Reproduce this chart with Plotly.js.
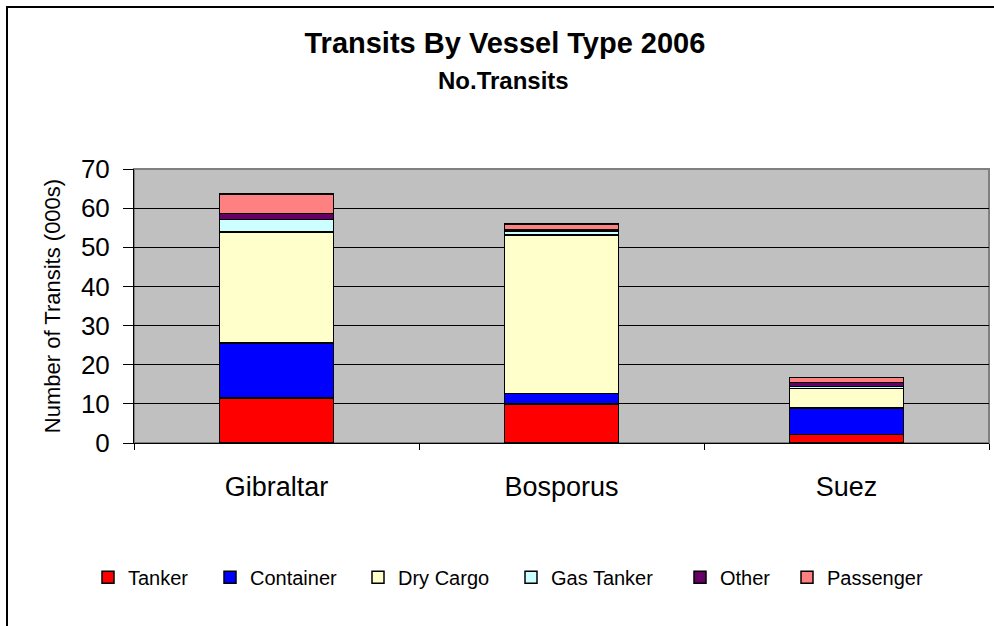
<!DOCTYPE html>
<html>
<head>
<meta charset="utf-8">
<script src="https://cdn.plot.ly/plotly-3.0.1.min.js"></script>
<style>
  html, body { margin: 0; padding: 0; background: #fff; }
  #wrap { position: relative; width: 994px; height: 626px; overflow: hidden; }
  #chart { position: absolute; left: 0; top: 0; width: 994px; height: 626px; }
  #frame { position: absolute; left: 6px; top: 6px; width: 1000px; height: 700px;
           border-top: 2px solid #000; border-left: 2px solid #000; pointer-events: none; }
</style>
</head>
<body>
<div id="wrap">
  <div id="chart"></div>
  <div id="frame"></div>
</div>
<script>
const categories = ["Gibraltar", "Bosporus", "Suez"];
const seriesNames = ["Tanker", "Container", "Dry Cargo", "Gas Tanker", "Other", "Passenger"];
const tanker    = [11.5, 10.0, 2.2];
const container = [14.0, 2.7, 6.8];
const dryCargo  = [28.4, 40.5, 4.9];
const gasTanker = [3.2, 0.9, 0.5];
const other     = [1.5, 0.5, 1.0];
const passenger = [5.0, 1.3, 1.3];
const seriesValues = [tanker, container, dryCargo, gasTanker, other, passenger];
const colors = ["#FF0000", "#0000FF", "#FFFFCC", "#CCFFFF", "#660066", "#FF8080"];

const FONT = "Liberation Sans, Arial, sans-serif";

// plot area geometry (pixels) used to place legends / subtitle
const PL = 134, PR = 989;
const legendTextStart = [133, 255, 403, 556, 725, 832];

const legendIds = ["legend2", "legend3", "legend4", "legend5", "legend6", "legend7"];

const traces = seriesNames.map((name, i) => ({
  type: "bar",
  name: name,
  x: categories,
  y: seriesValues[i],
  legend: legendIds[i],
  marker: { color: colors[i], line: { color: "#000", width: 1.5 } },
  hoverinfo: "x+y+name"
}));

const layout = {
  width: 994, height: 626,
  paper_bgcolor: "#fff",
  plot_bgcolor: "#C0C0C0",
  barmode: "stack",
  bargap: 0.6,
  margin: { l: 134, r: 5, t: 169, b: 183, autoexpand: false },
  font: { family: FONT, color: "#000" },
  title: {
    text: "<b>Transits By Vessel Type 2006</b>",
    font: { family: FONT, size: 29, color: "#000" },
    x: 0.508, xref: "container", xanchor: "center",
    y: 0.931, yref: "container", yanchor: "middle"
  },
  annotations: [{
    text: "<b>No.Transits</b>",
    font: { family: FONT, size: 24, color: "#000" },
    xref: "paper", yref: "paper",
    x: (503 - PL) / (PR - PL), y: (443 - 81) / 274,
    xanchor: "center", yanchor: "middle", showarrow: false
  }],
  xaxis: {
    type: "category",
    range: [-0.5, 2.5],
    showline: true, linecolor: "#000", linewidth: 1,
    ticks: "outside", ticklen: 6, tickcolor: "#000", tickson: "boundaries",
    tickfont: { family: FONT, size: 27, color: "#000" },
    ticklabelstandoff: 20,
    showgrid: false,
    fixedrange: true
  },
  yaxis: {
    range: [0, 70],
    dtick: 10,
    showline: true, linecolor: "#000", linewidth: 1,
    ticks: "outside", ticklen: 10, tickcolor: "#000",
    ticklabelstandoff: 8,
    tickfont: { family: FONT, size: 26, color: "#000" },
    showgrid: true, gridcolor: "#000", gridwidth: 1,
    zeroline: false,
    title: { text: "Number of Transits (000s)", font: { family: FONT, size: 22, color: "#000" }, standoff: 14 },
    fixedrange: true
  },
  shapes: [{
    type: "rect", xref: "paper", yref: "paper", x0: 0, x1: 1, y0: 0, y1: 1,
    line: { color: "#808080", width: 2 }, layer: "below"
  }]
};

legendIds.forEach((id, i) => {
  layout[id] = {
    orientation: "h",
    x: (legendTextStart[i] - 45 - PL) / (PR - PL), xanchor: "left",
    y: -0.49, yanchor: "middle",
    font: { family: FONT, size: 20, color: "#000" },
    bgcolor: "rgba(0,0,0,0)",
    borderwidth: 0,
    itemwidth: 30
  };
});

Plotly.newPlot("chart", traces, layout, { displayModeBar: false });
</script>
</body>
</html>
